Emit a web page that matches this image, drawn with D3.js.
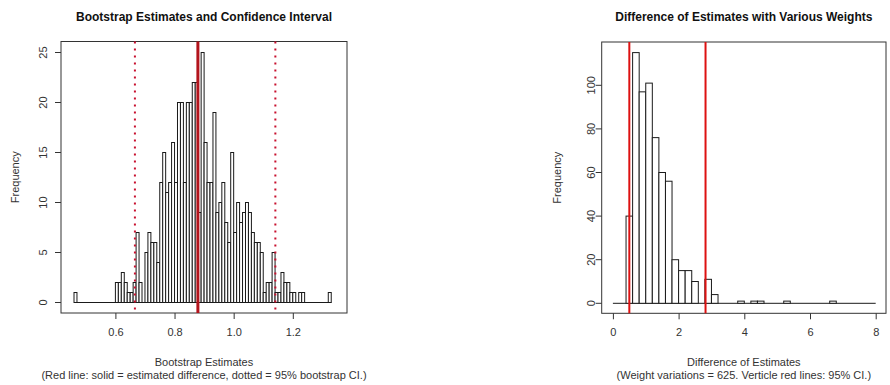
<!DOCTYPE html>
<html>
<head>
<meta charset="utf-8">
<script src="https://cdn.jsdelivr.net/npm/d3@7"></script>
<style>
  html, body { margin: 0; padding: 0; background: #fff; }
  svg { display: block; font-family: "Liberation Sans", Arial, sans-serif; }
</style>
</head>
<body>
<svg id="chart" width="890" height="385"></svg>
<script>
// ---------- DATA ----------
// Left: bootstrap estimates histogram (bin width 0.01, first bin starts at 0.46)
const leftBinStart = 0.46;
const leftBinWidth = 0.01;
const leftCounts = [
  1, 0, 0, 0, 0, 0, 0, 0, 0, 0, 0, 0, 0, 0,          // 0.46 - 0.59
  2, 2, 3, 2, 1, 1, 2, 7, 2, 0,                       // 0.60 - 0.69
  5, 7, 6, 6, 4, 12, 15, 11, 12, 16,                  // 0.70 - 0.79
  12, 20, 20, 12, 20, 20, 22, 22, 9, 25,              // 0.80 - 0.89
  16, 12, 12, 19, 9, 10, 12, 8, 6, 15,                // 0.90 - 0.99
  7, 10, 8, 9, 10, 9, 7, 6, 6, 5,                     // 1.00 - 1.09
  1, 2, 2, 5, 1, 1, 3, 2, 2, 1,                       // 1.10 - 1.19
  1, 0, 1, 1, 0, 0, 0, 0, 0, 0,                       // 1.20 - 1.29
  0, 0, 1                                              // 1.30 - 1.32
];
const leftXTicks = [0.6, 0.8, 1.0, 1.2];
const leftXTickLabels = ["0.6", "0.8", "1.0", "1.2"];
const leftYTicks = [0, 5, 10, 15, 20, 25];
const leftEstimate = 0.879;
const leftCI = [0.666, 1.141];

// Right: difference of estimates histogram (bin width 0.2, bins 0 - 8)
const rightBinStart = 0;
const rightBinWidth = 0.2;
const rightCounts = [
  0, 0, 40, 115, 97, 101, 76, 60, 56, 20,   // 0.0 - 1.8
  15, 15, 10, 0, 11, 4, 0, 0, 0, 1,         // 2.0 - 3.8
  0, 1, 1, 0, 0, 0, 1, 0, 0, 0,             // 4.0 - 5.8
  0, 0, 0, 1, 0, 0, 0, 0, 0, 0              // 6.0 - 7.8
];
const rightXTicks = [0, 2, 4, 6, 8];
const rightYTicks = [0, 20, 40, 60, 80, 100];
const rightCI = [0.5, 2.82];

const titles = ["Bootstrap Estimates and Confidence Interval", "Difference of Estimates with Various Weights"];
const xLabels = ["Bootstrap Estimates", "Difference of Estimates"];
const subLabels = ["(Red line: solid = estimated difference, dotted = 95% bootstrap CI.)",
                   "(Weight variations = 625. Verticle red lines: 95% CI.)"];
const yLabel = "Frequency";

// ---------- LAYOUT ----------
const svg = d3.select("#chart");
const panels = [
  { box: [61, 41.5, 347, 313], xDom: [0.6, 1.2], xRng: [115.4, 292.8], yDom: [0, 25], yRng: [302.5, 52.5],
    yLabX: 43.5, yTitleX: 15.5 },
  { box: [601.7, 42, 886, 313.3], xDom: [0, 8], xRng: [612.9, 875.7], yDom: [0, 100], yRng: [303.3, 85.3],
    yLabX: 591.5, yTitleX: 557 }
];

function drawPanel(p, idx, binStart, binWidth, counts, xTicks, xTickLabels, yTicks) {
  const x = d3.scaleLinear().domain(p.xDom).range(p.xRng);
  const y = d3.scaleLinear().domain(p.yDom).range(p.yRng);
  const g = svg.append("g");
  const [bx0, by0, bx1, by1] = p.box;
  const cx = (bx0 + bx1) / 2;

  // baseline (zero-height bins in R appear as a line along 0)
  g.append("line")
    .attr("x1", x(binStart)).attr("x2", x(binStart + counts.length * binWidth))
    .attr("y1", y(0)).attr("y2", y(0))
    .attr("stroke", "#1a1a1a").attr("stroke-width", 1);

  // bars
  g.append("g").selectAll("rect").data(counts.map((c, i) => ({ c, i })).filter(d => d.c > 0)).join("rect")
    .attr("x", d => x(binStart + d.i * binWidth))
    .attr("width", d => x(binStart + (d.i + 1) * binWidth) - x(binStart + d.i * binWidth))
    .attr("y", d => y(d.c))
    .attr("height", d => y(0) - y(d.c))
    .attr("fill", "#fff")
    .attr("stroke", "#1a1a1a")
    .attr("stroke-width", 1);

  // box
  g.append("rect").attr("x", bx0).attr("y", by0).attr("width", bx1 - bx0).attr("height", by1 - by0)
    .attr("fill", "none").attr("stroke", "#333").attr("stroke-width", 1);

  // x axis
  const xa = g.append("g").attr("transform", `translate(0,${by1})`)
    .call(d3.axisBottom(x).tickValues(xTicks).tickSize(6).tickSizeOuter(0).tickPadding(9)
      .tickFormat((d, i) => xTickLabels[i]));
  xa.select(".domain").remove();
  xa.selectAll("line").attr("stroke", "#333");
  xa.selectAll("text").attr("font-size", 11).attr("fill", "#333").attr("font-family", "Liberation Sans, Arial, sans-serif");

  // y axis
  const ya = g.append("g");
  ya.selectAll("line").data(yTicks).join("line")
    .attr("x1", bx0 - 6).attr("x2", bx0).attr("y1", d => y(d)).attr("y2", d => y(d))
    .attr("stroke", "#333");
  ya.selectAll("text").data(yTicks).join("text")
    .attr("transform", d => `translate(${p.yLabX},${y(d)}) rotate(-90)`)
    .attr("text-anchor", "middle").attr("dy", "0.35em")
    .attr("font-size", 11).attr("fill", "#333")
    .text(d => d);

  // titles
  g.append("text").attr("x", cx).attr("y", 21).attr("text-anchor", "middle")
    .attr("font-size", 12).attr("font-weight", "bold").attr("fill", "#111").text(titles[idx]);
  g.append("text").attr("x", cx).attr("y", 365.5).attr("text-anchor", "middle")
    .attr("font-size", 11).attr("fill", "#333").text(xLabels[idx]);
  g.append("text").attr("x", cx).attr("y", 379).attr("text-anchor", "middle")
    .attr("font-size", 11).attr("fill", "#333").text(subLabels[idx]);
  g.append("text").attr("transform", `translate(${p.yTitleX},${(by0 + by1) / 2}) rotate(-90)`)
    .attr("text-anchor", "middle").attr("dy", "0.35em")
    .attr("font-size", 11).attr("fill", "#333").text(yLabel);

  return { g, x, y };
}

const L = drawPanel(panels[0], 0, leftBinStart, leftBinWidth, leftCounts, leftXTicks, leftXTickLabels, leftYTicks);
const R = drawPanel(panels[1], 1, rightBinStart, rightBinWidth, rightCounts, rightXTicks, rightXTicks.map(String), rightYTicks);

// left reference lines
L.g.selectAll("line.ci").data(leftCI).join("line").attr("class", "ci")
  .attr("x1", d => L.x(d)).attr("x2", d => L.x(d))
  .attr("y1", panels[0].box[1]).attr("y2", panels[0].box[3])
  .attr("stroke", "#c8102e").attr("stroke-width", 2).attr("stroke-dasharray", "2,5");
L.g.append("line")
  .attr("x1", L.x(leftEstimate)).attr("x2", L.x(leftEstimate))
  .attr("y1", panels[0].box[1]).attr("y2", panels[0].box[3])
  .attr("stroke", "#b3141c").attr("stroke-width", 3);

// right reference lines
R.g.selectAll("line.ci").data(rightCI).join("line").attr("class", "ci")
  .attr("x1", d => R.x(d)).attr("x2", d => R.x(d))
  .attr("y1", panels[1].box[1]).attr("y2", panels[1].box[3])
  .attr("stroke", "#dd1111").attr("stroke-width", 2);
</script>
</body>
</html>
